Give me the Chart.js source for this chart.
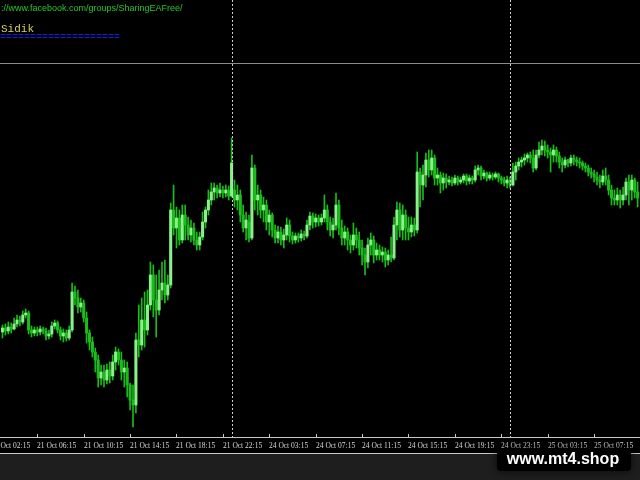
<!DOCTYPE html>
<html><head><meta charset="utf-8">
<script src="https://cdn.jsdelivr.net/npm/chart.js@4/dist/chart.umd.min.js"></script>
<style>html,body{margin:0;padding:0;background:#000;overflow:hidden}canvas{display:block}</style>
</head><body>
<canvas id="c" width="640" height="480"></canvas>
<script>
// M15 candles, 21 Oct 03:15 .. 25 Oct 07:xx
const opens = [
1.0105,1.0109,1.0106,1.0110,1.0108,1.0113,1.0117,1.0115,1.0122,1.0124,
1.0107,1.0104,1.0107,1.0105,1.0108,1.0106,1.0101,1.0103,1.0111,1.0114,
1.0107,1.0101,1.0104,1.0099,1.0107,1.0145,1.0139,1.0130,1.0134,1.0119,
1.0104,1.0095,1.0085,1.0077,1.0059,1.0065,1.0057,1.0067,1.0061,1.0075,
1.0085,1.0077,1.0065,1.0069,1.0052,1.0037,1.0032,1.0097,1.0092,1.0117,
1.0107,1.0132,1.0162,1.0137,1.0127,1.0147,1.0154,1.0142,1.0152,1.0227,
1.0209,1.0219,1.0197,1.0222,1.0212,1.0202,1.0209,1.0197,1.0192,1.0200,
1.0215,1.0227,1.0237,1.0245,1.0249,1.0244,1.0247,1.0244,1.0247,1.0241,
1.0247,1.0237,1.0242,1.0222,1.0209,1.0215,1.0199,1.0269,1.0237,1.0242,
1.0227,1.0232,1.0215,1.0222,1.0207,1.0199,1.0205,1.0197,1.0202,1.0212,
1.0201,1.0197,1.0201,1.0199,1.0203,1.0201,1.0212,1.0221,1.0215,1.0219,
1.0215,1.0219,1.0227,1.0215,1.0207,1.0212,1.0232,1.0209,1.0199,1.0205,
1.0197,1.0192,1.0202,1.0197,1.0189,1.0182,1.0175,1.0192,1.0197,1.0182,
1.0187,1.0182,1.0185,1.0177,1.0182,1.0179,1.0212,1.0227,1.0207,1.0222,
1.0209,1.0205,1.0212,1.0207,1.0265,1.0252,1.0262,1.0277,1.0267,1.0279,
1.0259,1.0262,1.0254,1.0259,1.0255,1.0257,1.0254,1.0259,1.0255,1.0257,
1.0261,1.0256,1.0259,1.0257,1.0267,1.0269,1.0261,1.0264,1.0259,1.0262,
1.0260,1.0263,1.0259,1.0257,1.0254,1.0257,1.0252,1.0265,1.0271,1.0275,
1.0277,1.0279,1.0282,1.0279,1.0269,1.0282,1.0287,1.0291,1.0287,1.0285,
1.0282,1.0287,1.0281,1.0275,1.0272,1.0277,1.0274,1.0279,1.0277,1.0275,
1.0274,1.0271,1.0269,1.0265,1.0263,1.0260,1.0257,1.0255,1.0261,1.0257,
1.0247,1.0239,1.0237,1.0242,1.0237,1.0242,1.0255,1.0247,1.0257,1.0245];
const highs = [
1.0112,1.0113,1.0115,1.0114,1.0119,1.0122,1.0121,1.0126,1.0128,1.0126,
1.0111,1.0110,1.0110,1.0111,1.0110,1.0109,1.0107,1.0115,1.0117,1.0116,
1.0110,1.0108,1.0107,1.0111,1.0154,1.0151,1.0147,1.0139,1.0137,1.0125,
1.0107,1.0100,1.0089,1.0082,1.0072,1.0072,1.0073,1.0075,1.0082,1.0090,
1.0088,1.0085,1.0077,1.0075,1.0054,1.0052,1.0104,1.0132,1.0139,1.0145,
1.0147,1.0175,1.0172,1.0162,1.0167,1.0175,1.0177,1.0162,1.0234,1.0252,
1.0230,1.0227,1.0232,1.0232,1.0220,1.0217,1.0214,1.0205,1.0205,1.0225,
1.0230,1.0247,1.0254,1.0254,1.0252,1.0254,1.0251,1.0252,1.0251,1.0299,
1.0257,1.0252,1.0247,1.0232,1.0225,1.0222,1.0282,1.0272,1.0252,1.0247,
1.0240,1.0237,1.0227,1.0224,1.0212,1.0211,1.0210,1.0208,1.0219,1.0217,
1.0205,1.0204,1.0204,1.0207,1.0206,1.0217,1.0225,1.0224,1.0223,1.0222,
1.0223,1.0242,1.0232,1.0220,1.0219,1.0244,1.0237,1.0217,1.0211,1.0209,
1.0202,1.0214,1.0209,1.0205,1.0197,1.0189,1.0199,1.0204,1.0201,1.0194,
1.0192,1.0190,1.0189,1.0187,1.0200,1.0220,1.0235,1.0234,1.0232,1.0227,
1.0220,1.0220,1.0219,1.0285,1.0269,1.0272,1.0284,1.0287,1.0287,1.0282,
1.0269,1.0265,1.0264,1.0263,1.0261,1.0260,1.0262,1.0261,1.0260,1.0263,
1.0263,1.0262,1.0261,1.0271,1.0272,1.0271,1.0267,1.0265,1.0265,1.0264,
1.0265,1.0264,1.0261,1.0260,1.0261,1.0260,1.0274,1.0275,1.0279,1.0280,
1.0283,1.0284,1.0285,1.0287,1.0287,1.0295,1.0297,1.0296,1.0292,1.0289,
1.0292,1.0290,1.0285,1.0279,1.0280,1.0278,1.0282,1.0282,1.0280,1.0279,
1.0276,1.0274,1.0272,1.0269,1.0267,1.0265,1.0262,1.0267,1.0269,1.0262,
1.0252,1.0247,1.0249,1.0247,1.0250,1.0259,1.0262,1.0262,1.0259,1.0255];
const lows = [
1.0099,1.0102,1.0103,1.0104,1.0107,1.0110,1.0111,1.0113,1.0119,1.0103,
1.0100,1.0101,1.0101,1.0102,1.0103,1.0097,1.0098,1.0100,1.0108,1.0104,
1.0097,1.0095,1.0096,1.0097,1.0105,1.0132,1.0124,1.0125,1.0115,1.0094,
1.0087,1.0080,1.0065,1.0050,1.0052,1.0050,1.0053,1.0054,1.0057,1.0067,
1.0072,1.0057,1.0050,1.0040,1.0027,1.0010,1.0024,1.0080,1.0087,1.0090,
1.0102,1.0127,1.0120,1.0100,1.0122,1.0137,1.0134,1.0137,1.0149,1.0202,
1.0189,1.0192,1.0194,1.0197,1.0197,1.0195,1.0192,1.0187,1.0187,1.0197,
1.0209,1.0222,1.0232,1.0237,1.0239,1.0240,1.0239,1.0240,1.0237,1.0240,
1.0230,1.0227,1.0215,1.0205,1.0197,1.0195,1.0197,1.0227,1.0222,1.0219,
1.0215,1.0207,1.0202,1.0200,1.0194,1.0194,1.0192,1.0189,1.0197,1.0195,
1.0193,1.0194,1.0195,1.0196,1.0197,1.0199,1.0207,1.0209,1.0210,1.0211,
1.0212,1.0215,1.0207,1.0201,1.0199,1.0207,1.0202,1.0192,1.0192,1.0187,
1.0184,1.0187,1.0189,1.0182,1.0172,1.0162,1.0169,1.0182,1.0174,1.0177,
1.0177,1.0175,1.0170,1.0172,1.0175,1.0177,1.0197,1.0200,1.0197,1.0197,
1.0197,1.0200,1.0201,1.0204,1.0230,1.0237,1.0250,1.0260,1.0262,1.0252,
1.0252,1.0244,1.0247,1.0249,1.0252,1.0251,1.0252,1.0252,1.0253,1.0254,
1.0252,1.0253,1.0253,1.0255,1.0262,1.0257,1.0258,1.0256,1.0257,1.0257,
1.0258,1.0255,1.0253,1.0251,1.0249,1.0249,1.0251,1.0257,1.0267,1.0270,
1.0272,1.0275,1.0274,1.0265,1.0267,1.0279,1.0282,1.0281,1.0279,1.0265,
1.0275,1.0275,1.0269,1.0265,1.0269,1.0270,1.0271,1.0272,1.0271,1.0269,
1.0267,1.0265,1.0261,1.0259,1.0255,1.0252,1.0249,1.0252,1.0252,1.0242,
1.0232,1.0232,1.0232,1.0229,1.0232,1.0237,1.0232,1.0237,1.0239,1.0230];
const closes = [
1.0109,1.0106,1.0110,1.0108,1.0113,1.0117,1.0115,1.0122,1.0124,1.0107,
1.0104,1.0107,1.0105,1.0108,1.0106,1.0101,1.0103,1.0111,1.0114,1.0107,
1.0101,1.0104,1.0099,1.0107,1.0145,1.0139,1.0130,1.0134,1.0119,1.0104,
1.0095,1.0085,1.0077,1.0059,1.0065,1.0057,1.0067,1.0061,1.0075,1.0085,
1.0077,1.0065,1.0069,1.0052,1.0037,1.0032,1.0097,1.0092,1.0117,1.0107,
1.0132,1.0162,1.0137,1.0127,1.0147,1.0154,1.0142,1.0152,1.0227,1.0209,
1.0219,1.0197,1.0222,1.0212,1.0202,1.0209,1.0197,1.0192,1.0200,1.0215,
1.0227,1.0237,1.0245,1.0249,1.0244,1.0247,1.0244,1.0247,1.0241,1.0274,
1.0237,1.0242,1.0222,1.0209,1.0217,1.0199,1.0269,1.0237,1.0242,1.0227,
1.0232,1.0215,1.0222,1.0207,1.0199,1.0205,1.0197,1.0202,1.0212,1.0201,
1.0197,1.0201,1.0199,1.0203,1.0201,1.0212,1.0221,1.0215,1.0219,1.0215,
1.0219,1.0227,1.0215,1.0207,1.0212,1.0232,1.0209,1.0199,1.0205,1.0197,
1.0192,1.0202,1.0197,1.0189,1.0182,1.0175,1.0192,1.0197,1.0182,1.0187,
1.0182,1.0185,1.0177,1.0182,1.0179,1.0212,1.0227,1.0207,1.0222,1.0209,
1.0205,1.0212,1.0207,1.0265,1.0252,1.0262,1.0277,1.0267,1.0279,1.0259,
1.0262,1.0254,1.0259,1.0255,1.0257,1.0254,1.0259,1.0255,1.0257,1.0261,
1.0256,1.0259,1.0257,1.0267,1.0269,1.0261,1.0264,1.0259,1.0262,1.0260,
1.0263,1.0259,1.0257,1.0254,1.0257,1.0252,1.0265,1.0271,1.0275,1.0277,
1.0279,1.0282,1.0279,1.0269,1.0282,1.0287,1.0291,1.0287,1.0285,1.0282,
1.0287,1.0281,1.0275,1.0272,1.0277,1.0274,1.0279,1.0277,1.0275,1.0274,
1.0271,1.0269,1.0265,1.0263,1.0260,1.0257,1.0255,1.0261,1.0257,1.0247,
1.0239,1.0237,1.0242,1.0237,1.0242,1.0255,1.0247,1.0257,1.0245,1.0239];

const tickLabels = ['21 Oct 02:15','21 Oct 06:15','21 Oct 10:15','21 Oct 14:15','21 Oct 18:15','21 Oct 22:15',
  '24 Oct 03:15','24 Oct 07:15','24 Oct 11:15','24 Oct 15:15','24 Oct 19:15','24 Oct 23:15','25 Oct 03:15','25 Oct 07:15'];
const tickAt = [-4,12,28,44,60,76,92,108,124,140,156,172,188,204];   // candle index of each time label
const daySeparators = [79,175];                                       // first candle of 24 Oct and 25 Oct
const levelLine = 1.0374;                                             // horizontal line price
const headerUrl = '://www.facebook.com/groups/SharingEAFree/';
const headerName = 'Sidik';
const headerRule = '====================';
const watermark = 'www.mt4.shop';

const wickData = lows.map((l, i) => ({x: i, y: [l, highs[i]]}));
const bodyData = opens.map((o, i) => ({x: i, y: [o, closes[i]]}));
const bodyColors = opens.map((o, i) => closes[i] >= o ? '#8af08a' : '#1cbc1c');

const overlay = {
  id: 'mt4overlay',
  beforeDraw(chart) {
    const ctx = chart.ctx;
    ctx.save();
    ctx.fillStyle = '#000';
    ctx.fillRect(0, 0, chart.width, chart.height);
    ctx.fillStyle = '#1e1e1e';
    ctx.fillRect(0, 454, chart.width, chart.height - 454);
    ctx.restore();
  },
  afterDatasetsDraw(chart) {
    const ctx = chart.ctx, xs = chart.scales.x, ys = chart.scales.y, ca = chart.chartArea;
    ctx.save();
    // horizontal level
    const ly = Math.round(ys.getPixelForValue(levelLine)) + 0.5;
    ctx.strokeStyle = '#8a8a8a'; ctx.lineWidth = 1;
    ctx.beginPath(); ctx.moveTo(0, ly); ctx.lineTo(chart.width, ly); ctx.stroke();
    // day separators
    ctx.strokeStyle = '#cfcfcf'; ctx.setLineDash([2, 2]);
    daySeparators.forEach(d => {
      const x = Math.round(xs.getPixelForValue(d)) + 0.5;
      ctx.beginPath(); ctx.moveTo(x, 0); ctx.lineTo(x, ca.bottom); ctx.stroke();
    });
    ctx.setLineDash([]);
    // time axis
    ctx.strokeStyle = '#c8c8c8';
    ctx.beginPath(); ctx.moveTo(0, ca.bottom + 0.5); ctx.lineTo(chart.width, ca.bottom + 0.5); ctx.stroke();
    ctx.beginPath(); ctx.moveTo(0, 453.5); ctx.lineTo(chart.width, 453.5); ctx.stroke();
    ctx.font = '7.5px "Liberation Serif"';
    ctx.fillStyle = '#d8d8d8'; ctx.textAlign = 'left'; ctx.textBaseline = 'alphabetic';
    tickAt.forEach((t, k) => {
      const x = Math.round(xs.getPixelForValue(t)) + 0.5;
      ctx.beginPath(); ctx.moveTo(x, ca.bottom - 3); ctx.lineTo(x, ca.bottom + 1); ctx.stroke();
      ctx.fillText(tickLabels[k], x - 0.5, 447.5);
    });
    // header texts
    ctx.font = '9px "Liberation Sans"'; ctx.fillStyle = '#22c822';
    ctx.fillText(headerUrl, 1, 11);
    ctx.font = '11px "Liberation Mono"'; ctx.fillStyle = '#d6d05c';
    ctx.fillText(headerName, 1, 32);
    ctx.font = '10px "Liberation Mono"'; ctx.fillStyle = '#1a1ae0';
    ctx.fillText(headerRule, 0, 40);
    // watermark
    ctx.shadowColor = 'rgba(0,0,0,0.7)'; ctx.shadowBlur = 8;
    ctx.fillStyle = '#000';
    ctx.beginPath(); ctx.roundRect(497, 449, 134, 22, 4); ctx.fill();
    ctx.shadowBlur = 0; ctx.shadowColor = 'transparent';
    ctx.font = 'bold 16px "Liberation Sans"'; ctx.fillStyle = '#ffffff'; ctx.textAlign = 'center';
    ctx.fillText(watermark, 563, 464);
    ctx.restore();
  }
};

new Chart(document.getElementById('c'), {
  type: 'bar',
  data: { datasets: [
    { data: wickData, backgroundColor: '#16be16', barThickness: 1, grouped: false, order: 2 },
    { data: bodyData, backgroundColor: bodyColors, barThickness: 2.4, minBarLength: 1, grouped: false, order: 1 }
  ]},
  options: {
    responsive: false, animation: false, devicePixelRatio: 1,
    layout: { padding: { left: 0, right: 0, top: 0, bottom: 43 } },
    plugins: { legend: { display: false }, tooltip: { enabled: false } },
    scales: {
      x: { type: 'linear', min: -0.86, max: 219.83, offset: false, display: false },
      y: { min: 1.0, max: 1.0437, display: false }
    }
  },
  plugins: [overlay]
});
</script>
</body></html>
